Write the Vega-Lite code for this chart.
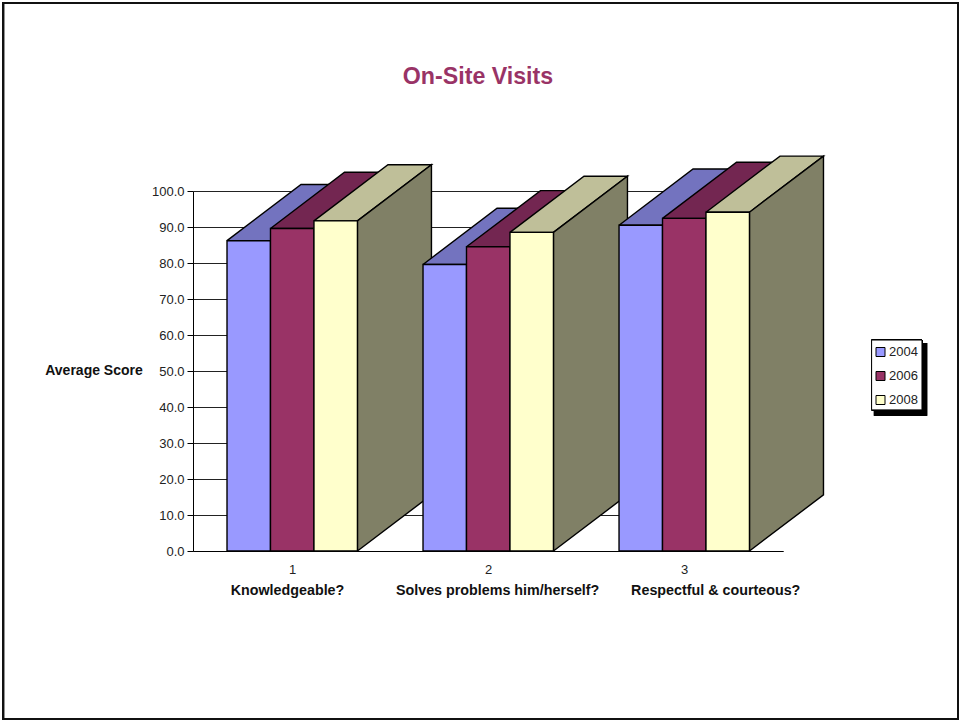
{
  "$schema": "https://vega.github.io/schema/vega-lite/v6.json",
  "width": 590,
  "height": 360,
  "autosize": {"type": "none"},
  "padding": {"left": 193, "top": 191, "right": 176, "bottom": 170},
  "background": "white",
  "view": {"stroke": null},
  "config": {"font": "Liberation Sans"},
  "title": {
    "text": "On-Site Visits",
    "anchor": "middle",
    "frame": "group",
    "dx": -10,
    "offset": -87,
    "fontSize": 23.2,
    "fontWeight": "bold",
    "font": "Liberation Sans",
    "color": "#993366"
  },
  "data": {
    "values": [
      {"question": 1, "year": "2004", "score": 86.2},
      {"question": 1, "year": "2006", "score": 89.6},
      {"question": 1, "year": "2008", "score": 91.7},
      {"question": 2, "year": "2004", "score": 79.6},
      {"question": 2, "year": "2006", "score": 84.5},
      {"question": 2, "year": "2008", "score": 88.5},
      {"question": 3, "year": "2004", "score": 90.5},
      {"question": 3, "year": "2006", "score": 92.4},
      {"question": 3, "year": "2008", "score": 94.1}
    ]
  },
  "layer": [
    {
      "description": "Page frame; also carries the axes so they sit behind the bars",
      "mark": {"type": "rect", "fill": "transparent", "stroke": "#111111", "strokeWidth": 2},
      "encoding": {
        "x": {
          "datum": -0.474,
          "type": "quantitative",
          "scale": {"domain": [0.495, 3.505], "nice": false, "zero": false},
          "axis": {
            "values": [1, 2, 3],
            "format": "d",
            "grid": false,
            "ticks": false,
            "domainColor": "black",
            "labelFontSize": 13,
            "labelColor": "#222222",
            "labelPadding": 12,
            "labelFlush": false,
            "title": "Knowledgeable?\u00a0\u00a0\u00a0\u00a0\u00a0\u00a0\u00a0\u00a0\u00a0\u00a0\u00a0\u00a0\u00a0Solves problems him/herself?\u00a0\u00a0\u00a0\u00a0\u00a0\u00a0\u00a0\u00a0Respectful & courteous?",
            "titleFontSize": 14.3,
            "titleFontWeight": "bold",
            "titleColor": "#111111",
            "titleX": 322,
            "titleY": 39,
            "titleAlign": "center",
            "titleBaseline": "middle"
          }
        },
        "x2": {"datum": 4.398},
        "y": {
          "datum": 152.2,
          "type": "quantitative",
          "scale": {"domain": [0, 100], "nice": false, "zero": false},
          "axis": {
            "values": [0, 10, 20, 30, 40, 50, 60, 70, 80, 90, 100],
            "tickCount": 11,
            "labelOverlap": false,
            "format": ".1f",
            "grid": true,
            "gridColor": "#222222",
            "gridOpacity": 1,
            "domainColor": "black",
            "tickColor": "black",
            "tickSize": 6,
            "labelFontSize": 13,
            "labelColor": "#222222",
            "labelPadding": 3,
            "title": "Average Score",
            "titleAngle": 0,
            "titleFontSize": 14,
            "titleFontWeight": "bold",
            "titleColor": "#111111",
            "titleX": -99.5,
            "titleY": 179,
            "titleAlign": "center",
            "titleBaseline": "middle"
          }
        },
        "y2": {"datum": -46.67}
      }
    },
    {
      "description": "Drop shadow behind the legend",
      "mark": {"type": "rect", "fill": "black"},
      "encoding": {
        "x": {"datum": 3.969, "type": "quantitative"},
        "x2": {"datum": 4.24},
        "y": {"datum": 57.8, "type": "quantitative"},
        "y2": {"datum": 37.6}
      }
    },
    {
      "description": "Legend box",
      "mark": {"type": "rect", "fill": "white", "stroke": "black", "strokeWidth": 1},
      "encoding": {
        "x": {"datum": 3.957, "type": "quantitative"},
        "x2": {"datum": 4.214},
        "y": {"datum": 58.6, "type": "quantitative"},
        "y2": {"datum": 39.2}
      }
    },
    {
      "description": "Extruded bars: each bar becomes top, side and front polygons, drawn back to front",
      "transform": [
        {"calculate": "datum.question - 0.3315 + (toNumber(datum.year) - 2004) / 2 * 0.2218", "as": "left"},
        {"calculate": "datum.left + 0.2218", "as": "right"},
        {"calculate": "['top', 'side', 'front']", "as": "face"},
        {"flatten": ["face"]},
        {"calculate": "datum.question + '-' + datum.year + '-' + datum.face", "as": "polygon"},
        {"calculate": "datum.face === 'front' ? datum.year : datum.year + ' ' + datum.face", "as": "tone"},
        {"calculate": "[0, 1, 2, 3, 4]", "as": "corner"},
        {"calculate": "datum.face === 'front' ? [datum.left, datum.right, datum.right, datum.left, datum.left] : datum.face === 'top' ? [datum.left, datum.right, datum.right + 0.3776, datum.left + 0.3776, datum.left] : [datum.right, datum.right + 0.3776, datum.right + 0.3776, datum.right, datum.right]", "as": "px"},
        {"calculate": "datum.face === 'front' ? [0, 0, datum.score, datum.score, 0] : datum.face === 'top' ? [datum.score, datum.score, datum.score + 15.6, datum.score + 15.6, datum.score] : [0, 15.6, datum.score + 15.6, datum.score, 0]", "as": "py"},
        {"flatten": ["corner", "px", "py"]}
      ],
      "mark": {"type": "line", "stroke": "black", "strokeWidth": 1.4, "strokeJoin": "miter", "clip": false},
      "encoding": {
        "x": {"field": "px", "type": "quantitative"},
        "y": {"field": "py", "type": "quantitative"},
        "detail": {"field": "polygon"},
        "order": {"field": "corner", "type": "ordinal"},
        "fill": {
          "field": "tone",
          "type": "nominal",
          "scale": {
            "domain": ["2004", "2006", "2008", "2004 top", "2006 top", "2008 top", "2004 side", "2006 side", "2008 side"],
            "range": ["#9999FF", "#993366", "#FFFFCC", "#7373BF", "#732651", "#BFBF99", "#4D4D80", "#4D1A33", "#808066"]
          },
          "legend": {
            "values": ["2004", "2006", "2008"],
            "title": null,
            "orient": "none",
            "legendX": 678,
            "legendY": 151.5,
            "zindex": 1,
            "padding": 3,
            "symbolType": "square",
            "symbolSize": 81,
            "symbolStrokeColor": "black",
            "symbolStrokeWidth": 1,
            "symbolOpacity": 1,
            "labelFontSize": 13,
            "labelColor": "#222222",
            "labelOffset": 2,
            "rowPadding": 10
          }
        }
      }
    }
  ]
}
